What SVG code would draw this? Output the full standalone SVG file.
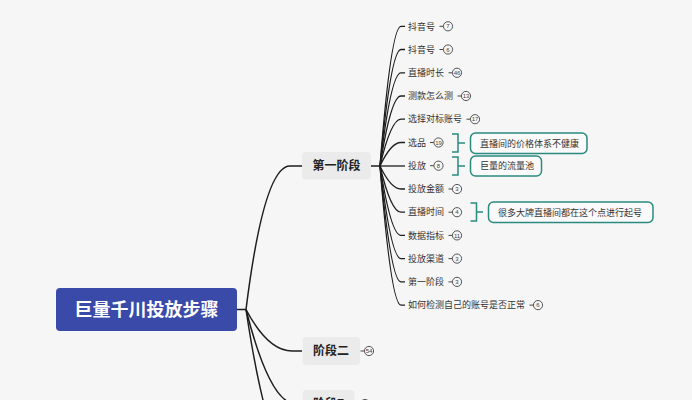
<svg xmlns="http://www.w3.org/2000/svg" width="692" height="400" viewBox="0 0 692 400">
<style>
.t{font-family:"Noto Sans CJK SC","Noto Sans",sans-serif;fill:#333;font-size:9px}
.b{font-family:"Noto Sans CJK SC","Noto Sans",sans-serif;font-weight:bold;fill:#222;font-size:12px}
.n{font-family:"Liberation Sans",Arial,sans-serif;fill:#444;font-size:6px;text-anchor:middle}
.c{fill:none;stroke:#444;stroke-width:0.9}
.d{stroke:#444;stroke-width:1}
.l{fill:none;stroke:#1e1e1e;stroke-width:1.5}
.lc{fill:none;stroke:#1e1e1e;stroke-width:1.3}
.br{fill:none;stroke:#2a8a80;stroke-width:1.5}
.bx{fill:#fafafa;stroke:#2a8a80;stroke-width:1.5}
.ct{font-family:"Noto Sans CJK SC","Noto Sans",sans-serif;fill:#333;font-size:9px}
.g{fill:#ebebeb}
</style>
<rect width="692" height="400" fill="#f6f6f6"/>
<g id="connectors">
<path class="l" d="M237 309.5H246"/>
<path class="l" d="M246 309.5Q264 166 290 166H302"/>
<path class="l" d="M246 309.5Q268 351 292 351H302"/>
<path class="l" d="M246 309.5Q270 404 296 404H302"/>
<path class="l" d="M246 309.5Q270 470 300 470"/>
<path class="l" d="M371 166H380"/>
<path class="lc" d="M380 166Q391 26.3 401 26.3H405"/>
<path class="lc" d="M380 166Q391 49.5 401 49.5H405"/>
<path class="lc" d="M380 166Q391 72.8 401 72.8H405"/>
<path class="lc" d="M380 166Q391 96 401 96H405"/>
<path class="lc" d="M380 166Q391 119.2 401 119.2H405"/>
<path class="lc" d="M380 166Q391 142.5 401 142.5H405"/>
<path class="lc" d="M380 166H405"/>
<path class="lc" d="M380 166Q391 189 401 189H405"/>
<path class="lc" d="M380 166Q391 212.2 401 212.2H405"/>
<path class="lc" d="M380 166Q391 235.4 401 235.4H405"/>
<path class="lc" d="M380 166Q391 258.6 401 258.6H405"/>
<path class="lc" d="M380 166Q391 281.9 401 281.9H405"/>
<path class="lc" d="M380 166Q391 305.1 401 305.1H405"/>
</g>
<g id="root">
<rect x="56" y="288" width="181" height="43" rx="4" fill="#3a4aa9"/>
<text x="146.5" y="316" font-family="'Noto Sans CJK SC','Noto Sans',sans-serif" font-weight="bold" font-size="18" fill="#fff" text-anchor="middle">巨量千川投放步骤</text>
</g>
<g id="stage1">
<rect class="g" x="302" y="152" width="69" height="27.5" rx="4"/>
<text class="b" x="336.5" y="170.2" text-anchor="middle">第一阶段</text>
</g>
<g id="stage2">
<rect class="g" x="302.5" y="337" width="57.5" height="28" rx="4"/>
<text class="b" x="331" y="355.2" text-anchor="middle">阶段二</text>
<line class="d" x1="360.5" y1="351" x2="364" y2="351"/>
<circle class="c" cx="369" cy="351" r="4.6"/>
<text class="n" x="369" y="353">54</text>
</g>
<g id="stage3">
<rect class="g" x="302.5" y="390" width="52" height="28" rx="4"/>
<text class="b" x="328.5" y="408.2" text-anchor="middle">阶段7</text>
<line class="d" x1="356" y1="404" x2="360" y2="404"/>
<circle class="c" cx="365" cy="404" r="4.6"/>
</g>
<g id="c0"><text class="t" x="408" y="29.5">抖音号</text><line class="d" x1="439.5" y1="26.3" x2="443.2" y2="26.3"/><circle class="c" cx="448" cy="26.3" r="4.6"/><text class="n" x="448" y="28.4">7</text></g>
<g id="c1"><text class="t" x="408" y="52.7">抖音号</text><line class="d" x1="439.5" y1="49.5" x2="443.2" y2="49.5"/><circle class="c" cx="448" cy="49.5" r="4.6"/><text class="n" x="448" y="51.6">6</text></g>
<g id="c2"><text class="t" x="408" y="76">直播时长</text><line class="d" x1="448.5" y1="72.8" x2="452.2" y2="72.8"/><circle class="c" cx="457" cy="72.8" r="4.6"/><text class="n" x="457" y="74.9">46</text></g>
<g id="c3"><text class="t" x="408" y="99.2">测款怎么测</text><line class="d" x1="457.5" y1="96" x2="461.2" y2="96"/><circle class="c" cx="466" cy="96" r="4.6"/><text class="n" x="466" y="98.1">13</text></g>
<g id="c4"><text class="t" x="408" y="122.4">选择对标账号</text><line class="d" x1="466.5" y1="119.2" x2="470.2" y2="119.2"/><circle class="c" cx="475" cy="119.2" r="4.6"/><text class="n" x="475" y="121.3">17</text></g>
<g id="c5"><text class="t" x="408" y="145.7">选品</text><line class="d" x1="430" y1="142.5" x2="433.7" y2="142.5"/><circle class="c" cx="438.5" cy="142.5" r="4.6"/><text class="n" x="438.5" y="144.6">19</text>
<path class="br" d="M452 134H458V152H452M458 143H465"/>
<rect class="bx" x="470.5" y="133" width="116.5" height="20.5" rx="5"/>
<text class="ct" x="480" y="146.5">直播间的价格体系不健康</text></g>
<g id="c6"><text class="t" x="408" y="168.9">投放</text><line class="d" x1="430" y1="165.7" x2="433.7" y2="165.7"/><circle class="c" cx="438.5" cy="165.7" r="4.6"/><text class="n" x="438.5" y="167.8">8</text>
<path class="br" d="M452 157H458V175H452M458 166H465"/>
<rect class="bx" x="470.5" y="156" width="71" height="20" rx="5"/>
<text class="ct" x="480" y="169.2">巨量的流量池</text></g>
<g id="c7"><text class="t" x="408" y="192.2">投放金额</text><line class="d" x1="448.5" y1="189" x2="452.2" y2="189"/><circle class="c" cx="457" cy="189" r="4.6"/><text class="n" x="457" y="191.1">3</text></g>
<g id="c8"><text class="t" x="408" y="215.4">直播时间</text><line class="d" x1="448.5" y1="212.2" x2="452.2" y2="212.2"/><circle class="c" cx="457" cy="212.2" r="4.6"/><text class="n" x="457" y="214.3">4</text>
<path class="br" d="M470.5 203H476.5V221H470.5M476.5 212H483"/>
<rect class="bx" x="488.5" y="202" width="164.5" height="20.5" rx="5"/>
<text class="ct" x="498" y="215.5">很多大牌直播间都在这个点进行起号</text></g>
<g id="c9"><text class="t" x="408" y="238.6">数据指标</text><line class="d" x1="448.5" y1="235.4" x2="452.2" y2="235.4"/><circle class="c" cx="457" cy="235.4" r="4.6"/><text class="n" x="457" y="237.5">11</text></g>
<g id="c10"><text class="t" x="408" y="261.8">投放渠道</text><line class="d" x1="448.5" y1="258.6" x2="452.2" y2="258.6"/><circle class="c" cx="457" cy="258.6" r="4.6"/><text class="n" x="457" y="260.7">3</text></g>
<g id="c11"><text class="t" x="408" y="285.1">第一阶段</text><line class="d" x1="448.5" y1="281.9" x2="452.2" y2="281.9"/><circle class="c" cx="457" cy="281.9" r="4.6"/><text class="n" x="457" y="284">3</text></g>
<g id="c12"><text class="t" x="408" y="308.3">如何检测自己的账号是否正常</text><line class="d" x1="529.5" y1="305.1" x2="533.2" y2="305.1"/><circle class="c" cx="538" cy="305.1" r="4.6"/><text class="n" x="538" y="307.2">6</text></g>
</svg>
